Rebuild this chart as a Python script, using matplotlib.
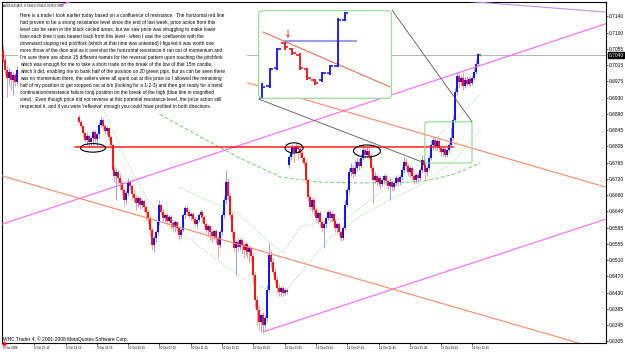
import numpy as np
import matplotlib
matplotlib.use("Agg")
import matplotlib.pyplot as plt
import matplotlib.transforms as mtransforms
from matplotlib.patches import Ellipse, FancyBboxPatch, Rectangle

plt.rcParams['font.family'] = ['Liberation Sans', 'DejaVu Sans']

# ------------------------------------------------------------------ data
header_text = "AUDUSD,M15  0.7042 0.7044 0.7039 0.7040"
footer_text = "WHC Trader 4, \u00a9 2001-2008 MetaQuotes Software Corp."
last_price = 0.7040

# price axis (MT4 style labels)
ytick_top = 0.7140
ytick_step = 0.004175
ytick_labels = ['0.7140', '0.7100', '0.7055', '0.7015', '0.6975', '0.6930', '0.6890',
                '0.6845', '0.6805', '0.6765', '0.6720', '0.6680', '0.6640', '0.6595',
                '0.6555', '0.6510', '0.6470', '0.6430', '0.6385', '0.6345', '0.6305']
# time axis (one label every 16 bars of 15 minutes)
xtick_every = 16
xtick_labels = ['9 Oct 2008', '9 Oct 15:15', '9 Oct 19:15', '9 Oct 23:15', '10 Oct 03:15',
                '10 Oct 07:15', '10 Oct 11:15', '10 Oct 15:15', '10 Oct 19:15', '10 Oct 23:15',
                '13 Oct 03:45', '13 Oct 07:45', '13 Oct 11:45', '13 Oct 15:45', '13 Oct 19:45',
                '13 Oct 22:45']

# candles, in pips (price * 10000); opens = previous close
seg_a_start, seg_a_open = 0, 7053
seg_a_close = [7028, 7002, 6982, 6997, 6976, 6989, 6971, 7002, 7033, 7048]
seg_a_high = [7066, 7041, 7015, 7007, 7002, 6997, 6994, 7012, 7048, 7059]
seg_a_low = [7023, 6989, 6933, 6964, 6951, 6938, 6961, 6964, 6994, 7023]

seg_b_start, seg_b_open = 39, 6881
seg_b_close = [6869, 6858, 6840, 6822, 6832, 6817, 6827, 6843, 6825, 6838,
               6861, 6874, 6858, 6845, 6853, 6830, 6809, 6745, 6730, 6740,
               6725, 6712, 6694, 6668, 6686, 6714, 6704, 6683, 6673, 6660,
               6673, 6655, 6665, 6650, 6637, 6622, 6591, 6552, 6570, 6586,
               6611, 6655, 6637, 6622, 6629, 6614, 6624, 6609, 6599, 6611,
               6596, 6578, 6591, 6629, 6647, 6637, 6627, 6632, 6619, 6606,
               6617, 6629, 6637, 6624, 6606, 6591, 6601, 6586, 6575, 6588,
               6570, 6552, 6586, 6629, 6668, 6714, 6678, 6629, 6586, 6545,
               6560, 6547, 6565, 6552, 6540, 6555, 6534, 6545, 6524, 6475,
               6411, 6385, 6354, 6372, 6347, 6365, 6437, 6527, 6509, 6483,
               6462, 6442, 6432, 6442, 6429, 6437, 6432]
seg_b_high = [6886, 6874, 6861, 6845, 6840, 6838, 6832, 6848, 6848, 6840,
              6869, 6881, 6879, 6863, 6858, 6856, 6835, 6814, 6758, 6750,
              6745, 6735, 6719, 6699, 6694, 6725, 6719, 6709, 6694, 6681,
              6678, 6678, 6671, 6671, 6655, 6642, 6627, 6596, 6578, 6591,
              6622, 6668, 6660, 6647, 6635, 6635, 6629, 6629, 6617, 6617,
              6614, 6601, 6596, 6635, 6653, 6653, 6645, 6637, 6637, 6627,
              6622, 6635, 6642, 6642, 6629, 6611, 6606, 6604, 6593, 6593,
              6593, 6575, 6591, 6637, 6678, 6745, 6725, 6686, 6637, 6591,
              6565, 6570, 6570, 6570, 6557, 6560, 6557, 6550, 6550, 6532,
              6483, 6421, 6398, 6378, 6380, 6372, 6450, 6557, 6540, 6519,
              6493, 6473, 6452, 6447, 6447, 6442, 6439]
seg_b_low = [6863, 6853, 6830, 6817, 6809, 6802, 6804, 6809, 6814, 6807,
             6827, 6856, 6851, 6838, 6835, 6820, 6802, 6737, 6714, 6668,
             6712, 6694, 6681, 6653, 6658, 6678, 6694, 6671, 6663, 6642,
             6650, 6645, 6647, 6637, 6617, 6606, 6575, 6540, 6534, 6560,
             6578, 6604, 6629, 6614, 6611, 6604, 6606, 6596, 6588, 6586,
             6586, 6565, 6570, 6586, 6622, 6627, 6622, 6617, 6611, 6601,
             6596, 6611, 6622, 6611, 6596, 6583, 6575, 6565, 6560, 6565,
             6557, 6519, 6545, 6578, 6622, 6658, 6668, 6619, 6570, 6534,
             6475, 6534, 6540, 6529, 6519, 6527, 6519, 6509, 6509, 6450,
             6390, 6347, 6334, 6329, 6326, 6334, 6354, 6432, 6493, 6473,
             6452, 6429, 6421, 6421, 6421, 6424, 6426]

seg_c_start, seg_c_open = 146, 6758
seg_c_close = [6779, 6791, 6804, 6791, 6807, 6799, 6789, 6776, 6763, 6719,
               6676, 6650, 6668, 6642, 6622, 6635, 6611, 6596, 6606, 6622,
               6637, 6622, 6632, 6614, 6596, 6606, 6586, 6570, 6596, 6655,
               6694, 6740, 6750, 6735, 6750, 6766, 6755, 6776, 6797, 6784,
               6794, 6781, 6750, 6719, 6730, 6714, 6725, 6709, 6719, 6730,
               6717, 6704, 6714, 6701, 6712, 6725, 6714, 6727, 6745, 6766,
               6755, 6740, 6750, 6730, 6719, 6732, 6725, 6745, 6771, 6758,
               6740, 6750, 6776, 6809, 6822, 6807, 6820, 6802, 6791, 6799,
               6784, 6797, 6809, 6827, 6874, 6946, 6987, 6971, 6982, 6961,
               6976, 6966, 6979, 6969, 6982, 6997, 7018, 7042, 7040]
seg_c_high = [6784, 6802, 6812, 6809, 6814, 6812, 6804, 6794, 6781, 6771,
              6725, 6681, 6673, 6673, 6650, 6640, 6640, 6617, 6611, 6627,
              6642, 6642, 6637, 6635, 6619, 6611, 6611, 6591, 6601, 6668,
              6701, 6750, 6763, 6758, 6771, 6776, 6776, 6786, 6809, 6802,
              6804, 6802, 6789, 6758, 6740, 6735, 6730, 6730, 6725, 6735,
              6735, 6722, 6725, 6719, 6717, 6732, 6730, 6732, 6755, 6779,
              6776, 6761, 6755, 6755, 6740, 6737, 6740, 6750, 6784, 6781,
              6766, 6755, 6784, 6822, 6830, 6827, 6825, 6822, 6807, 6804,
              6804, 6802, 6817, 6853, 6886, 6956, 6997, 6994, 6989, 6997,
              6984, 6987, 6984, 6987, 6987, 7007, 7028, 7046, 7044]
seg_c_low = [6750, 6771, 6781, 6766, 6789, 6771, 6779, 6766, 6755, 6709,
             6665, 6642, 6637, 6629, 6611, 6606, 6599, 6586, 6545, 6596,
             6617, 6611, 6611, 6604, 6586, 6583, 6575, 6563, 6565, 6591,
             6650, 6686, 6730, 6725, 6730, 6743, 6745, 6750, 6771, 6776,
             6779, 6771, 6740, 6660, 6712, 6704, 6704, 6696, 6701, 6709,
             6707, 6694, 6668, 6691, 6694, 6704, 6704, 6707, 6719, 6737,
             6745, 6730, 6727, 6719, 6709, 6712, 6714, 6719, 6740, 6745,
             6719, 6730, 6745, 6771, 6797, 6797, 6797, 6791, 6781, 6781,
             6776, 6779, 6789, 6804, 6822, 6869, 6938, 6956, 6961, 6951,
             6956, 6958, 6961, 6961, 6964, 6976, 6992, 7012, 7039]

# drawn objects (bar index, price)
resistance_price = 0.6804
resistance_bars = [37, 230]
magenta_lower = ([132.9, 308.3], [0.6329, 0.6619])
magenta_mid = ([-0.5, 308.3], [0.6606, 0.7121])
magenta_upper = ([29.1, 39.4], [0.7169, 0.7186])
lavender_line = ([203.0, 308.3], [0.7192, 0.7151])
orange_upper = ([123.7, 308.3], [0.6971, 0.6701])
orange_mid = ([-0.5, 308.3], [0.6730, 0.6280])
connector_1 = ([130.4, 215.7], [0.6928, 0.6763])
connector_2 = ([198.9, 239.8], [0.7156, 0.6869])
small_box_bars = [215.7, 239.8]
small_box_prices = [0.6763, 0.6869]
inset_box_bars = [130.4, 198.9]
inset_box_prices = [0.6928, 0.7156]
# circled areas: centre bar, centre price, width (bars), height (price)
circle_bar = [46.0, 148.8, 186.1]
circle_price = [0.6802, 0.6802, 0.6794]
circle_w = [12.8, 9.2, 13.8]
circle_h = [0.0022, 0.0026, 0.0031]

# indicator lines (bar index, pips)
ma_dash_bars = [80, 101, 121, 142, 162, 183, 203, 218, 231, 244]
ma_dash_pips = [6889, 6830, 6776, 6727, 6714, 6712, 6712, 6719, 6735, 6763]
ma_dot1_bars = [52, 63, 74, 88, 106, 126, 143, 154, 167, 183, 198, 218, 231, 244]
ma_dot1_pips = [6894, 6771, 6668, 6596, 6527, 6455, 6424, 6493, 6570, 6627, 6668, 6719, 6771, 6848]
ma_dot2_bars = [90, 104, 120, 131, 143, 152, 162, 176, 198, 218, 231, 244]
ma_dot2_pips = [6701, 6668, 6635, 6583, 6532, 6599, 6611, 6622, 6707, 6809, 6874, 6938]

# magnified view (12 OHLC bars)
in_open = [0.67592, 0.67741, 0.67965, 0.68275, 0.68201, 0.68126, 0.67952, 0.67816, 0.67816, 0.67903, 0.67990, 0.68561]
in_high = [0.67778, 0.67965, 0.68213, 0.68288, 0.68213, 0.68151, 0.67965, 0.67828, 0.67915, 0.68002, 0.68586, 0.68660]
in_low = [0.67586, 0.67716, 0.67940, 0.68188, 0.68126, 0.67940, 0.67816, 0.67754, 0.67791, 0.67878, 0.67977, 0.68548]
in_close = [0.67729, 0.67952, 0.68201, 0.68225, 0.68151, 0.67965, 0.67841, 0.67778, 0.67903, 0.67990, 0.68561, 0.68648]
in_pitch_line = ([0.13, 16.95], [0.68412, 0.67729])
in_entry_line = ([3.05, 12.45], [0.68300, 0.68300])
in_arrow = (3.44, 0.68437, 0.68337)

paragraph = [
    "Here is a trade I took earlier today based on a confluence of resistance.  The horizontal red line",
    "had proven to be a strong resistance level since the end of last week, price action from this",
    "level can be seen in the black circled areas, but we saw price was struggling to make lower",
    "lows each time it was beaten back from this level - when I saw the confluence with the",
    "downward sloping red pitchfork (which at that time was untested) I figured it was worth one",
    "more throw of the dice and as it overshot the horizontal resistance it ran out of momentum and",
    "I'm sure there are about 15 different names for the reversal pattern upon touching the pitchfork",
    "which was enough for me to take a short trade on the break of the low of that 15m candle,",
    "which it did, enabling me to bank half of the position on 20 green pips, but as can be seen there",
    "was no momentum there, the sellers were all spent out at this price so I allowed the remaining",
    "half of my position to get stopped out at b/e (looking for a 1-2-3) and then got ready for a trend",
    "continuation/resistance failure long position on the break of the high (blue line in magnified",
    "view).  Even though price did not reverse at this potential resistance level, the price action still",
    "respected it, and if you were 'reflexive' enough you could have profited in both directions.",
]

# ------------------------------------------------------------------ figure
W, H = 625, 352
fig = plt.figure(figsize=(W / 100, H / 100), dpi=100)
fig.patch.set_facecolor('white')
ax = fig.add_axes([2 / W, 1 - 343 / H, 604 / W, 341 / H])
ax.set_facecolor('white')
ax.set_xlim(-0.51, 308.3)
ax.set_ylim(0.63005, 0.71769)
for s in ax.spines.values():
    s.set_color('black')
    s.set_linewidth(0.8)

# axes ticks
ypos = [ytick_top - k * ytick_step for k in range(len(ytick_labels))]
ax.yaxis.tick_right()
ax.set_yticks(ypos)
ax.set_yticklabels(ytick_labels)
ax.tick_params(axis='y', length=1.5, width=0.5, pad=0.6, labelsize=3.5, colors='black')
xpos = [k * xtick_every for k in range(len(xtick_labels))]
ax.set_xticks(xpos)
ax.set_xticklabels(xtick_labels)
for lab in ax.get_xticklabels():
    lab.set_ha('left')
ax.tick_params(axis='x', length=1.5, width=0.5, pad=0.6, labelsize=2.2, colors='black')

# bid line
ax.axhline(last_price, color='#a8a8a8', lw=0.6, zorder=1)


def draw_segment(start, open0, closes, highs, lows):
    c = np.array(closes) / 1e4
    h = np.array(highs) / 1e4
    l = np.array(lows) / 1e4
    o = np.concatenate([[open0 / 1e4], c[:-1]])
    x = np.arange(start, start + len(c))
    up = c >= o
    ax.vlines(x[up], l[up], h[up], color='#8888ff', lw=0.6, zorder=2)
    ax.vlines(x[~up], l[~up], h[~up], color='#ff8888', lw=0.6, zorder=2)
    ax.vlines(x[up], o[up], c[up], color='#0000ff', lw=1.3, zorder=3)
    ax.vlines(x[~up], o[~up], c[~up], color='#ff0000', lw=1.3, zorder=3)
    return x, o, h, l, c


draw_segment(seg_a_start, seg_a_open, seg_a_close, seg_a_high, seg_a_low)
draw_segment(seg_b_start, seg_b_open, seg_b_close, seg_b_high, seg_b_low)
xc, oc, hc, lc, cc = draw_segment(seg_c_start, seg_c_open, seg_c_close, seg_c_high, seg_c_low)
ax.vlines(xc[-1], lc[-1], hc[-1], color='#00cc00', lw=1.2, zorder=4)

# indicators
ax.plot(ma_dash_bars, np.array(ma_dash_pips) / 1e4, color='#77cc77', lw=0.7,
        ls=(0, (4, 2)), zorder=2.5)
ax.plot(ma_dot1_bars, np.array(ma_dot1_pips) / 1e4, color='#a0dca0', lw=0.7,
        ls=(0, (1, 1.5)), zorder=2.5)
ax.plot(ma_dot2_bars, np.array(ma_dot2_pips) / 1e4, color='#a0dca0', lw=0.7,
        ls=(0, (1, 1.5)), zorder=2.5)

# pitchforks and objects
for ln in (magenta_lower, magenta_mid, magenta_upper):
    ax.plot(ln[0], ln[1], color='#ff66ff', lw=0.8, zorder=4)
ax.plot(lavender_line[0], lavender_line[1], color='#b990ee', lw=0.8, zorder=4)
for ln in (orange_upper, orange_mid):
    ax.plot(ln[0], ln[1], color='#ff8866', lw=0.8, zorder=4)
for ln in (connector_1, connector_2):
    ax.plot(ln[0], ln[1], color='#555555', lw=0.6, zorder=4)
ax.plot(resistance_bars, [resistance_price, resistance_price], color='#ff2020', lw=1.1, zorder=5)
for cb, cp, cw, ch in zip(circle_bar, circle_price, circle_w, circle_h):
    ax.add_patch(Ellipse((cb, cp), cw, ch, fill=False, ec='black', lw=0.8, zorder=6))

px_per_bar = 604 / (308.3 + 0.51)
px_per_price = 341 / (0.71769 - 0.63005)
ax.add_patch(FancyBboxPatch((small_box_bars[0], small_box_prices[0]),
                            small_box_bars[1] - small_box_bars[0],
                            small_box_prices[1] - small_box_prices[0],
                            boxstyle='round,pad=0,rounding_size=1.2',
                            mutation_aspect=px_per_bar / px_per_price,
                            fill=False, ec='#88dd88', lw=0.8, zorder=5))

# MT4 shift marker
ax.plot([0.3], [0.63005], marker='^', color='red', ms=2.2, clip_on=False, zorder=7)

# current price label
blend = mtransforms.blended_transform_factory(ax.transAxes, ax.transData)
ax.text(1.004, last_price, '0.7040', transform=blend, color='white', fontsize=3.5,
        va='center', ha='left', zorder=8,
        bbox=dict(boxstyle='square,pad=0.15', fc='black', ec='black'))

# ------------------------------------------------------------------ texts
fx = lambda x: x / W
fy = lambda y: 1 - y / H
fig.add_artist(Rectangle((fx(18), fy(111)), (247 - 18) / W, (111 - 11) / H,
                         transform=fig.transFigure, fc='white', ec='none', zorder=1))
for k, line in enumerate(paragraph):
    fig.text(fx(20), fy(15.8 + 7.0 * k), line, fontsize=3.45, color='black',
             ha='left', va='center', zorder=2)
fig.text(fx(3), fy(6), header_text, fontsize=2.2, color='black', ha='left', va='center', zorder=2)
fig.text(fx(3), fy(339), footer_text, fontsize=3.5, color='black', ha='left', va='center', zorder=2)

# ------------------------------------------------------------------ magnified inset
p0 = ax.transData.transform((inset_box_bars[0], inset_box_prices[0]))
p1 = ax.transData.transform((inset_box_bars[1], inset_box_prices[1]))
inv = fig.transFigure.inverted()
f0, f1 = inv.transform(p0), inv.transform(p1)
ax_in = fig.add_axes([f0[0], f0[1], f1[0] - f0[0], f1[1] - f0[1]], zorder=5)
ax_in.set_facecolor('white')
ax_in.set_xlim(-0.53, 17.22)
ax_in.set_ylim(0.67580, 0.68685)
ax_in.axis('off')
ax_in.add_patch(Rectangle((0, 0), 1, 1, transform=ax_in.transAxes, fc='white', ec='none', zorder=0))
for i, (o, h, l, c) in enumerate(zip(in_open, in_high, in_low, in_close)):
    col = '#2020ee' if c >= o else '#ee2020'
    ax_in.vlines(i, l, h, color=col, lw=1.4, zorder=3)
    ax_in.hlines(o, i - 0.45, i, color=col, lw=1.2, zorder=3)
    ax_in.hlines(c, i, i + 0.45, color=col, lw=1.2, zorder=3)
ax_in.plot(in_pitch_line[0], in_pitch_line[1], color='#f07058', lw=0.8, zorder=2)
ax_in.plot(in_entry_line[0], in_entry_line[1], color='#9a9aee', lw=1.5, zorder=2)
ax_in.annotate('', xy=(in_arrow[0], in_arrow[2]), xytext=(in_arrow[0], in_arrow[1]),
               arrowprops=dict(arrowstyle='->', color='#ff2020', lw=0.6,
                               shrinkA=0, shrinkB=0, mutation_scale=4))
iw = (f1[0] - f0[0]) * W
ih = (f1[1] - f0[1]) * H
ax_in.add_patch(FancyBboxPatch((0.004, 0.006), 0.992, 0.988,
                               boxstyle='round,pad=0,rounding_size=%.4f' % (4 / iw),
                               mutation_aspect=iw / ih, transform=ax_in.transAxes,
                               fill=False, ec='#99dd99', lw=0.9, clip_on=False, zorder=4))

fig.savefig('out.png', dpi=100, facecolor='white')
